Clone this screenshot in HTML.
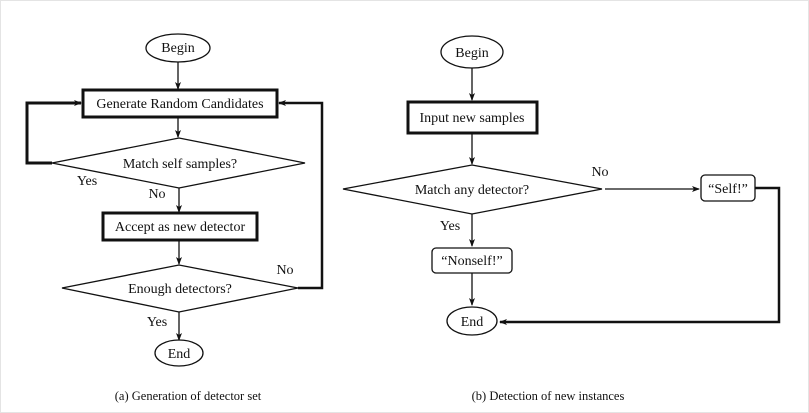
<!DOCTYPE html>
<html><head><style>
html,body{margin:0;padding:0;background:#fff;}
svg{display:block;}
text{font-family:"Liberation Serif",serif;font-size:14px;fill:#111;}
text.c{font-size:12.5px;}
</style></head><body>
<svg width="809" height="413" viewBox="0 0 809 413" xmlns="http://www.w3.org/2000/svg">
<defs><marker id="a" markerWidth="8" markerHeight="8" refX="7" refY="4" orient="auto" markerUnits="userSpaceOnUse"><path d="M0,1 L8,4 L0,7 L2,4 Z" fill="#111"/></marker></defs>
<rect x="0.5" y="0.5" width="808" height="412" fill="#fff" stroke="#e4e4e4"/>
<g stroke="#111" fill="none" stroke-width="1.3">
<ellipse cx="178" cy="48" rx="32" ry="14" fill="#fff"/>
<line x1="178" y1="62" x2="178" y2="89" marker-end="url(#a)"/>
<rect x="83" y="90" width="194" height="27" stroke-width="3"/>
<line x1="178" y1="117" x2="178" y2="137" marker-end="url(#a)"/>
<polygon points="52,163 179,138 305,163 179,188"/>
<polyline points="52,163 27,163 27,103 81,103" stroke-width="3" marker-end="url(#a)"/>
<line x1="179" y1="188" x2="179" y2="212" marker-end="url(#a)"/>
<rect x="103" y="213" width="154" height="27" stroke-width="3"/>
<line x1="179" y1="240" x2="179" y2="264" marker-end="url(#a)"/>
<polygon points="62,288 179,265 298,288 179,312"/>
<polyline points="298,288 322,288 322,103 279,103" stroke-width="2.5" marker-end="url(#a)"/>
<line x1="179" y1="312" x2="179" y2="340" marker-end="url(#a)"/>
<ellipse cx="179" cy="353" rx="24" ry="13"/>
<ellipse cx="472" cy="52" rx="31" ry="16"/>
<line x1="472" y1="68" x2="472" y2="100" marker-end="url(#a)"/>
<rect x="408" y="102" width="129" height="31" stroke-width="3"/>
<line x1="472" y1="133" x2="472" y2="164" marker-end="url(#a)"/>
<polygon points="343,189 472,165 602,189 472,214"/>
<line x1="605" y1="189" x2="699" y2="189" marker-end="url(#a)"/>
<rect x="701" y="175" width="54" height="26" rx="4"/>
<polyline points="755,188 779,188 779,322 500,322" stroke-width="2.5" marker-end="url(#a)"/>
<line x1="472" y1="214" x2="472" y2="246" marker-end="url(#a)"/>
<rect x="432" y="248" width="80" height="25" rx="4"/>
<line x1="472" y1="273" x2="472" y2="305" marker-end="url(#a)"/>
<ellipse cx="472" cy="321" rx="25" ry="14"/>
</g>
<g text-anchor="middle">
<text x="178" y="52">Begin</text>
<text x="180" y="108">Generate Random Candidates</text>
<text x="180" y="168">Match self samples?</text>
<text x="180" y="231">Accept as new detector</text>
<text x="180" y="293">Enough detectors?</text>
<text x="179" y="358">End</text>
<text x="87" y="185">Yes</text>
<text x="157" y="198">No</text>
<text x="285" y="274">No</text>
<text x="157" y="326">Yes</text>
<text class="c" x="188" y="400">(a) Generation of detector set</text>
<text x="472" y="57">Begin</text>
<text x="472" y="122">Input new samples</text>
<text x="472" y="194">Match any detector?</text>
<text x="600" y="176">No</text>
<text x="728" y="193">“Self!”</text>
<text x="450" y="230">Yes</text>
<text x="472" y="265">“Nonself!”</text>
<text x="472" y="326">End</text>
<text class="c" x="548" y="400">(b) Detection of new instances</text>
</g>
</svg>
</body></html>
